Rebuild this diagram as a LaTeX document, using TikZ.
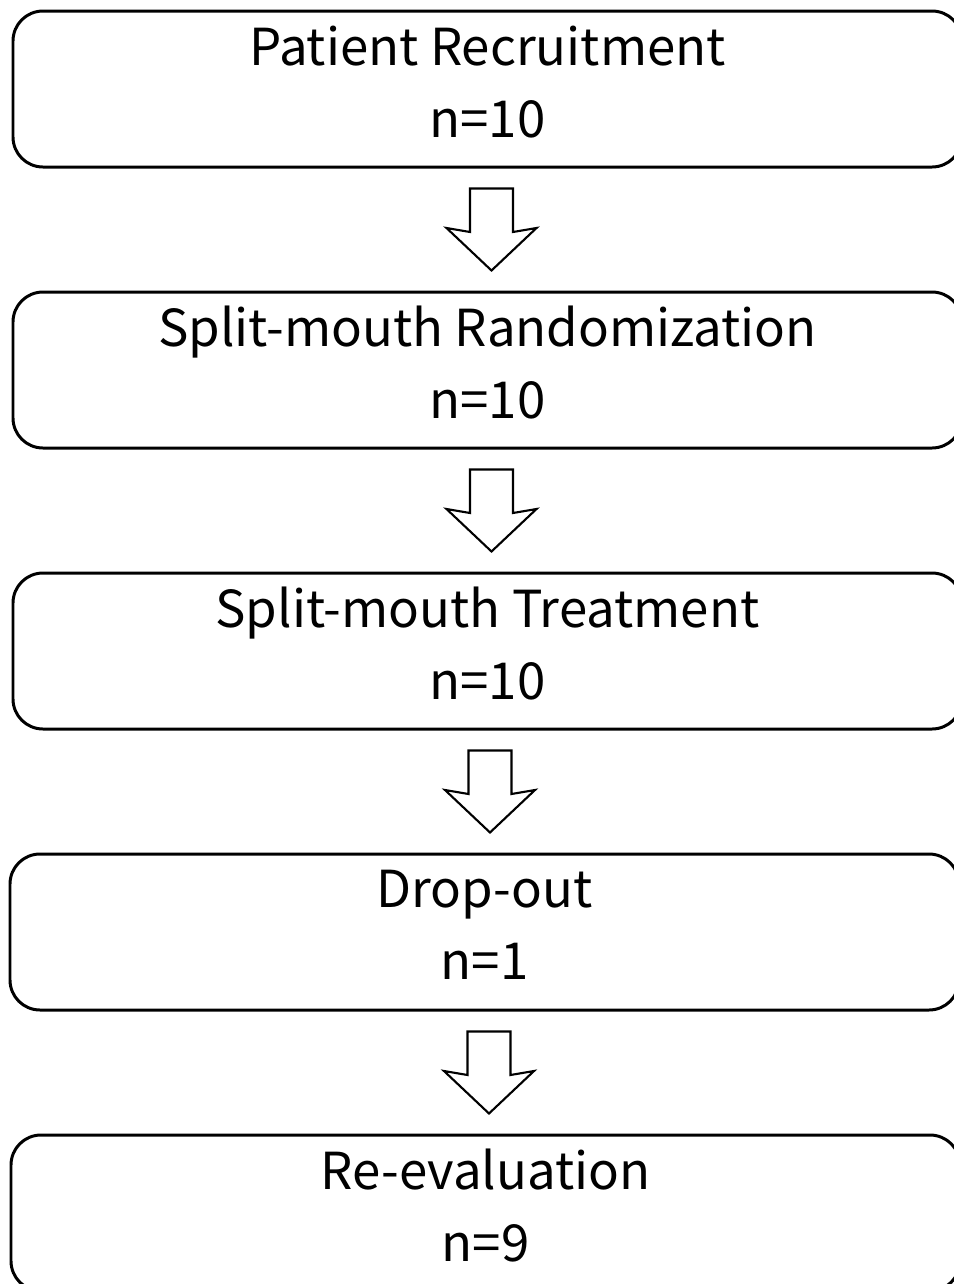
\documentclass[tikz,border=0pt]{standalone}
\usepackage{fontspec}
\setmainfont{Noto Sans CJK KR}
\usepackage{tikz}
\usetikzlibrary{calc}
\usetikzlibrary{positioning}

\begin{document}
\begin{tikzpicture}[
MyBoxes/.style={draw=black,line width=1.7pt,rounded corners=0.6cm,
  minimum width=18.98cm,minimum height=3.12cm,inner sep=0pt,outer sep=0pt,
  align=center,text depth=0.3cm,font=\fontsize{29}{41}\selectfont},
MyArrows/.style={draw=black,line width=1.2pt,fill=white,line join=miter},
node distance=2.5cm
]
\useasboundingbox (0,0) rectangle (19.08,-25.68);
\clip (0,0) rectangle (19.08,-25.68);

\node[MyBoxes] (Recruit) at (9.75,-1.78) {Patient Recruitment\\n=10};
\node[MyBoxes, below=of Recruit] (Random) {Split-mouth Randomization\\n=10};
\node[MyBoxes, below=of Random] (Treat) {Split-mouth Treatment\\n=10};
\node[MyBoxes, below=of Treat, xshift=-0.06cm] (Drop) {Drop-out\\n=1};
\node[MyBoxes, below=of Drop, xshift=0.02cm] (Reeval) {Re-evaluation\\n=9};

% block arrows between the boxes
\foreach \a/\b in {Recruit/Random,Random/Treat,Treat/Drop,Drop/Reeval}{
  \coordinate (M) at ($(\a.south)!0.5!(\b.north)+(0.08,0)$);
  \draw[MyArrows] ($(M)+(-0.43,0.82)$) -- ($(M)+(0.43,0.82)$)
    -- ($(M)+(0.43,-0.05)$) -- ($(M)+(0.9,0.03)$) -- ($(M)+(0,-0.82)$)
    -- ($(M)+(-0.9,0.03)$) -- ($(M)+(-0.43,-0.05)$) -- cycle;
}

\end{tikzpicture}
\end{document}
